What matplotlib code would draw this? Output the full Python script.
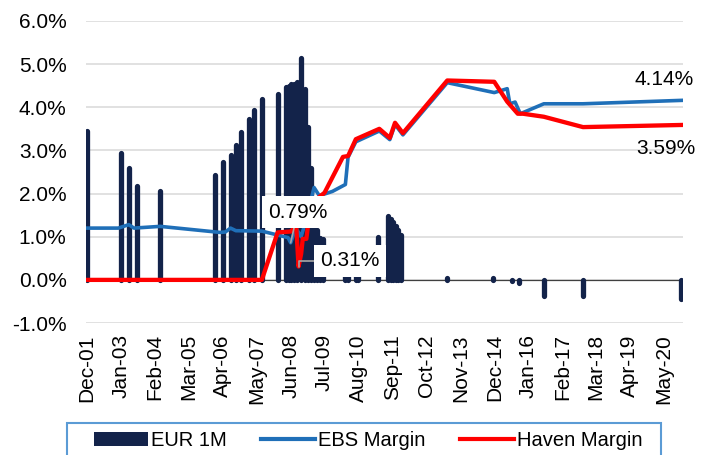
import pandas as pd
import matplotlib
matplotlib.use("Agg")
import matplotlib.pyplot as plt
import matplotlib.ticker as mticker
from matplotlib.patches import Patch, Rectangle
from matplotlib.lines import Line2D

plt.rcParams['font.family'] = ['Liberation Sans', 'DejaVu Sans']

# EUR 1M (bars)
eur_dates = ["2001-12-01", "2003-01-01", "2003-04-01", "2003-07-01", "2004-04-01",
             "2006-01-01", "2006-04-01", "2006-07-01", "2006-09-01", "2006-11-01",
             "2007-02-01", "2007-04-01", "2007-07-01", "2008-01-01",
             "2008-04-10", "2008-05-10", "2008-06-10", "2008-07-10", "2008-08-10",
             "2008-10-01", "2008-11-15", "2008-12-20", "2009-01-25", "2009-03-01",
             "2009-04-05", "2009-05-10", "2009-06-10",
             "2010-03-01", "2010-04-01", "2010-07-01", "2010-08-01",
             "2011-03-15", "2011-07-10", "2011-08-10", "2011-09-10", "2011-10-10",
             "2011-11-10", "2011-12-10",
             "2013-06-01", "2014-11-15", "2015-05-01", "2015-07-01", "2015-09-15",
             "2016-07-01", "2017-10-01", "2020-11-18"]
eur_1m = [3.45, 2.95, 2.6, 2.17, 2.05,
          2.43, 2.72, 2.9, 3.12, 3.43,
          3.72, 3.93, 4.2, 4.3,
          4.47, 4.5, 4.53, 4.55, 4.58,
          5.15, 4.42, 3.55, 2.6, 1.25,
          1.15, 0.98, 0.95,
          0.08, 0.08, 0.08, 0.08,
          1.0, 1.47, 1.42, 1.35, 1.25,
          1.15, 1.05,
          0.05, 0.05, -0.01, -0.03, -0.08,
          -0.37, -0.37, -0.45]

# EBS Margin
ebs_dates = ["2001-12-01", "2002-12-01", "2003-04-01", "2003-06-01", "2004-04-01",
             "2006-03-01", "2006-05-01", "2006-07-01", "2006-09-01", "2007-07-01",
             "2008-05-01", "2008-06-01", "2008-08-01", "2008-10-01", "2008-11-15",
             "2009-03-01", "2009-05-01", "2009-10-01", "2010-03-01", "2010-04-01",
             "2010-07-01", "2011-04-01", "2011-08-01", "2011-10-01", "2012-01-01",
             "2013-06-01", "2014-12-01", "2015-05-01", "2015-06-01", "2015-08-01",
             "2015-10-01", "2016-07-01", "2017-10-01", "2020-12-01"]
ebs_margin = [1.2, 1.2, 1.28, 1.2, 1.24,
              1.1, 1.11, 1.2, 1.14, 1.13,
              0.98, 0.86, 1.2, 1.0, 1.3,
              2.14, 1.95, 2.05, 2.21, 2.84,
              3.2, 3.45, 3.25, 3.6, 3.36,
              4.57, 4.34, 4.43, 4.08, 4.12,
              3.85, 4.08, 4.08, 4.16]

# Haven Margin
haven_dates = ["2001-12-01", "2007-07-01", "2008-01-01", "2008-06-01", "2008-07-01",
               "2008-08-01", "2008-09-01", "2008-10-01", "2008-10-20", "2008-12-01",
               "2009-01-01", "2009-02-15", "2009-07-01", "2010-02-01", "2010-04-01",
               "2010-07-01", "2011-04-01", "2011-08-01", "2011-10-01", "2012-01-01",
               "2013-06-01", "2014-12-01", "2015-05-01", "2015-09-01", "2015-11-01",
               "2016-07-01", "2017-10-01", "2020-12-01"]
haven_margin = [0.0, 0.0, 1.1, 1.12, 1.18,
                1.38, 0.31, 0.6, 0.95, 0.95,
                1.45, 1.8, 2.02, 2.85, 2.87,
                3.26, 3.5, 3.29, 3.64, 3.4,
                4.62, 4.59, 4.13, 3.85, 3.85,
                3.78, 3.54, 3.59]

navy = '#13234a'
blue = '#1f6fb8'
red = '#ff0000'

eur_x = pd.to_datetime(eur_dates)
ebs_x = pd.to_datetime(ebs_dates)
haven_x = pd.to_datetime(haven_dates)

fig = plt.figure(figsize=(7.11, 4.55), dpi=100)
ax = fig.add_axes([0.121, 0.290, 0.840, 0.664])

ax.vlines(eur_x, 0, eur_1m, color=navy, lw=3.8, capstyle='round', zorder=2)
ax.plot(ebs_x, ebs_margin, color=blue, lw=2.6, solid_joinstyle='round', zorder=3)
ax.plot(haven_x, haven_margin, color=red, lw=3.1, solid_joinstyle='round', zorder=4)
ax.axhline(0, color='#404040', lw=0.9, zorder=1.5)

ax.set_ylim(-1, 6)
ax.set_yticks(range(-1, 7))
ax.yaxis.set_major_formatter(mticker.FuncFormatter(lambda v, _: f"{v:.1f}%"))
ax.grid(axis='y', color='#d9d9d9', lw=1.1)
ax.set_axisbelow(True)

ticks = pd.date_range("2001-12-01", periods=18, freq="13MS")
ax.set_xticks(ticks)
ax.set_xticklabels([t.strftime("%b-%y") for t in ticks], rotation=90)
ax.set_xlim(pd.Timestamp("2001-11-19"), pd.Timestamp("2020-12-13"))

for s in ax.spines.values():
    s.set_visible(False)
ax.tick_params(axis='both', length=0, labelsize=15, colors='#000000')
ax.tick_params(axis='y', pad=14)
ax.tick_params(axis='x', pad=8)

# data labels
box = dict(boxstyle='square,pad=0.3', fc='white', ec='none')
ax.annotate("0.79%", xy=(pd.Timestamp("2008-06-01"), 0.86), xytext=(5, 22),
            textcoords='offset points', ha='center', va='center', fontsize=15,
            bbox=box, zorder=6,
            arrowprops=dict(arrowstyle='-', color='#a6a6a6', lw=1.2, shrinkA=0, shrinkB=0))
ax.annotate("0.31%", xy=(pd.Timestamp("2008-09-01"), 0.31), xytext=(37, 4),
            textcoords='offset points', ha='center', va='center', fontsize=15,
            bbox=box, zorder=6,
            arrowprops=dict(arrowstyle='-', color='#a6a6a6', lw=1.2, shrinkA=0, shrinkB=0,
                            connectionstyle='angle,angleA=0,angleB=90,rad=0'))
ax.annotate("4.14%", xy=(ebs_x[-1], ebs_margin[-1]), xytext=(-13, 15),
            textcoords='offset points', ha='center', va='center', fontsize=15, zorder=6)
ax.annotate("3.59%", xy=(haven_x[-1], haven_margin[-1]), xytext=(-12, -17),
            textcoords='offset points', ha='center', va='center', fontsize=15, zorder=6)

# legend
handles = [Patch(facecolor=navy),
           Line2D([], [], color=blue, lw=3),
           Line2D([], [], color=red, lw=3)]
fig.legend(handles, ["EUR 1M", "EBS Margin", "Haven Margin"], loc='center',
           bbox_to_anchor=(0.518, 0.031), ncol=3, frameon=False, fontsize=14.5,
           handlelength=2.7, handletextpad=0.15, columnspacing=1.7)
fig.add_artist(Rectangle((0.0942, -0.05), 0.8355, 0.1203, transform=fig.transFigure,
                         fill=False, edgecolor='#5b9bd5', lw=1.5))

fig.savefig('out.png', dpi=100)
